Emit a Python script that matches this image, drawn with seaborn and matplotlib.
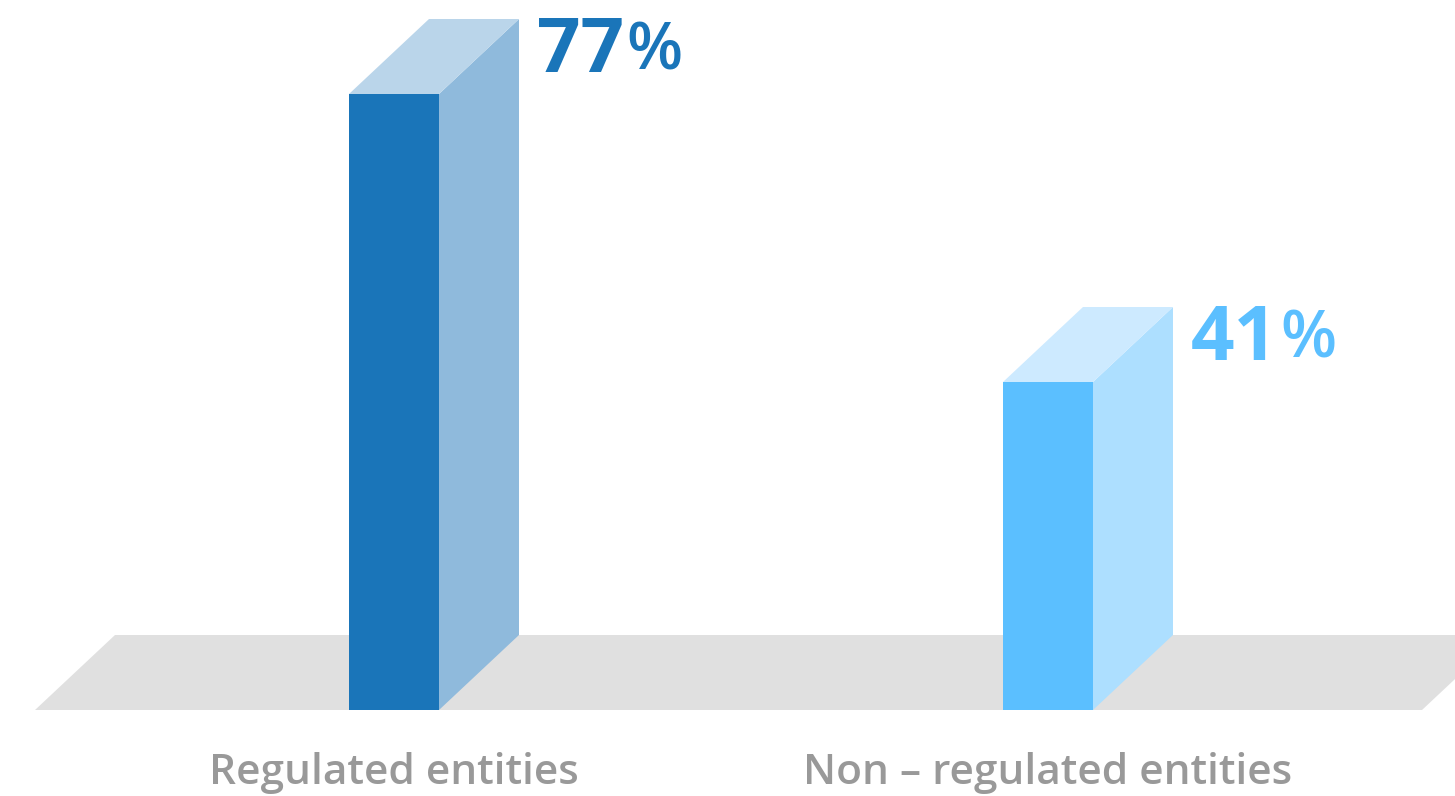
import matplotlib
matplotlib.use("Agg")
import matplotlib.pyplot as plt
from matplotlib.patches import Polygon, Rectangle
import seaborn as sns
import pandas as pd

# ---- data ----
categories = ["Regulated entities", "Non – regulated entities"]
values = [77, 41]
value_labels = ["77", "41"]
front_colors = ["#1a75b9", "#5bbfff"]
side_colors = ["#8fbadc", "#addfff"]
top_colors = ["#bad5ea", "#cdeaff"]
floor_color = "#e0e0e0"
label_color = "#999999"

sns.set_theme(style="white")
plt.rcParams["font.family"] = ["Open Sans", "DejaVu Sans"]

W, H = 1455, 796
fig = plt.figure(figsize=(W / 100, H / 100), dpi=100)
base_px = 86
ax = fig.add_axes([0, base_px / H, 1, (H - base_px) / H])

df = pd.DataFrame({"cat": categories, "val": values})
sns.barplot(data=df, x="cat", y="val", hue="cat", palette=front_colors,
            width=90 / 654, saturation=1, legend=False, ax=ax, zorder=2,
            edgecolor="none", linewidth=0)

bars = [p for p in ax.patches if isinstance(p, Rectangle) and p.get_height() > 0]
bars.sort(key=lambda p: p.get_x())

ax.set_xlim(-394 / 654, 1 + (W - 1048) / 654)
ax.set_ylim(0, (H - base_px) / 8.0)

dx = 80 / 654     # depth offset in x (data units)
dy = 75 / 8.0     # depth offset in y (data units)

# floor
fx0, fx1 = (35 - 394) / 654, (1422 - 394) / 654
ax.add_patch(Polygon([(fx0, 0), (fx1, 0), (fx1 + dx, dy), (fx0 + dx, dy)],
                     closed=True, facecolor=floor_color, edgecolor="none", zorder=0.5))

for i, p in enumerate(bars):
    x0, w, h = p.get_x(), p.get_width(), p.get_height()
    side = Polygon([(x0 + w, 0), (x0 + w + dx, dy), (x0 + w + dx, h + dy), (x0 + w, h)],
                   closed=True, facecolor=side_colors[i], edgecolor="none", zorder=2)
    top = Polygon([(x0, h), (x0 + w, h), (x0 + w + dx, h + dy), (x0 + dx, h + dy)],
                  closed=True, facecolor=top_colors[i], edgecolor="none", zorder=2)
    ax.add_patch(side)
    ax.add_patch(top)
    t1 = ax.annotate(value_labels[i], xy=(x0 + w + dx, h + dy), xytext=(18, 4),
                     textcoords="offset pixels", ha="left", va="top",
                     fontsize=55, fontweight="bold", color=front_colors[i])
    ax.annotate("%", xy=(1, 0), xycoords=t1, xytext=(2, 4), textcoords="offset pixels",
                ha="left", va="bottom", fontsize=47, fontweight="semibold",
                color=front_colors[i])

ax.set_xlabel("")
ax.set_ylabel("")
ax.set_yticks([])
ax.tick_params(axis="x", length=0, pad=30, labelsize=30.5, labelcolor=label_color)
for lbl in ax.get_xticklabels():
    lbl.set_fontweight("semibold")
for s in ax.spines.values():
    s.set_visible(False)
ax.patch.set_alpha(0)

fig.savefig("out.png", dpi=100, facecolor="white")
